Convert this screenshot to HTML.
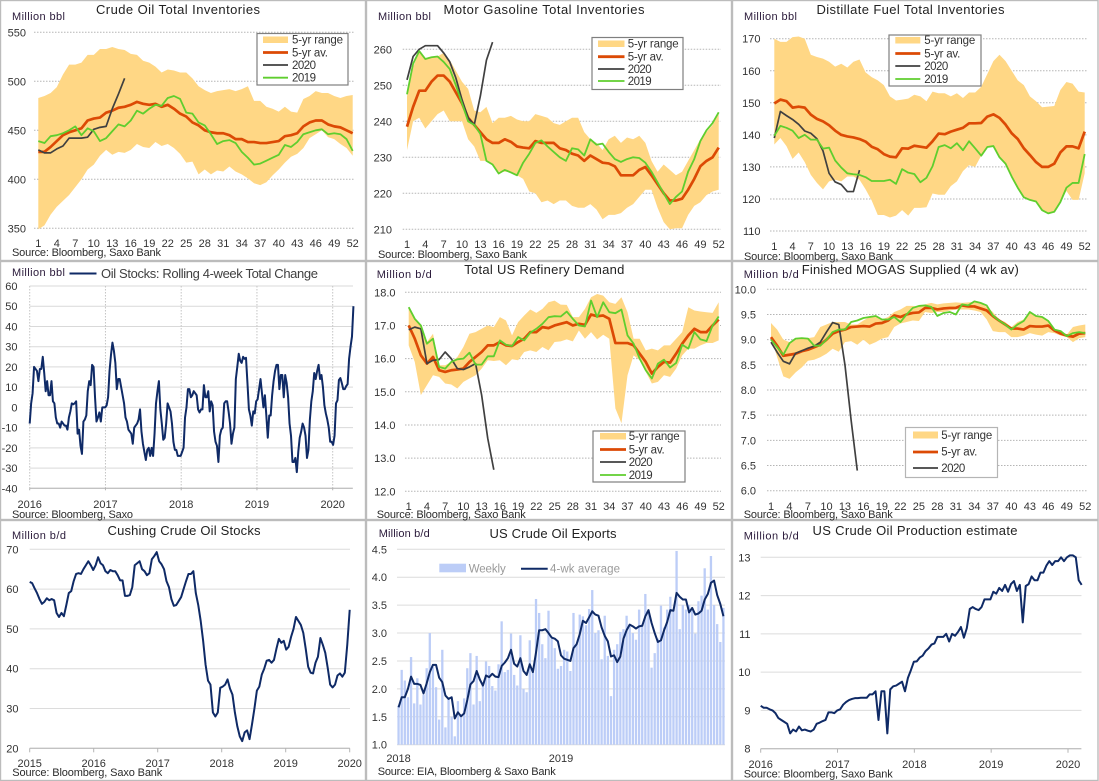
<!DOCTYPE html>
<html lang="en">
<head>
<meta charset="utf-8">
<title>US Oil Inventories Dashboard</title>
<style>
html,body{margin:0;padding:0;background:#fff;}
svg{display:block;font-family:"Liberation Sans",Arial,sans-serif;}
text{fill:#333;font-size:11px;}
.title{font-size:13px;fill:#222;}
.unit{font-size:11px;fill:#2a1a3a;}
.source{font-size:11px;fill:#2b2b2b;}
.tick{font-size:11px;fill:#333;}
.leg{font-size:11.5px;fill:#333;}
.panel{fill:#fff;stroke:#bcbcbc;stroke-width:1.4;}
.legbox{fill:#fff;stroke:#7f7f7f;stroke-width:1.2;}
</style>
</head>
<body>
<svg id="dash" xmlns="http://www.w3.org/2000/svg" width="1099" height="781" viewBox="0 0 1099 781">

<rect class="panel" x="0.5" y="0.5" width="365" height="260"/>
<rect class="panel" x="366.5" y="0.5" width="365" height="260"/>
<rect class="panel" x="732.5" y="0.5" width="365.5" height="260"/>
<rect class="panel" x="0.5" y="261.5" width="365" height="258"/>
<rect class="panel" x="366.5" y="261.5" width="365" height="258"/>
<rect class="panel" x="732.5" y="261.5" width="365.5" height="258"/>
<rect class="panel" x="0.5" y="520.5" width="365" height="260"/>
<rect class="panel" x="366.5" y="520.5" width="365" height="260"/>
<rect class="panel" x="732.5" y="520.5" width="365.5" height="260"/>

<g id="marks"></g>

<!-- Titles, units, sources -->
<text class="title" x="178" y="14" text-anchor="middle" textLength="164">Crude Oil Total Inventories</text>
<text class="unit" x="12" y="20" textLength="53">Million bbl</text>
<text class="source" x="12" y="256" textLength="149">Source: Bloomberg, Saxo Bank</text>

<text class="title" x="544" y="14" text-anchor="middle" textLength="201">Motor Gasoline  Total  Inventories</text>
<text class="unit" x="378" y="20" textLength="53">Million bbl</text>
<text class="source" x="378" y="258" textLength="149">Source: Bloomberg, Saxo Bank</text>

<text class="title" x="910.5" y="14" text-anchor="middle" textLength="188">Distillate  Fuel  Total  Inventories</text>
<text class="unit" x="744" y="20" textLength="53">Million bbl</text>
<text class="source" x="744" y="260" textLength="149">Source: Bloomberg, Saxo Bank</text>

<text class="unit" x="12" y="276" textLength="53">Million bbl</text>
<line x1="69.5" y1="273.5" x2="96.5" y2="273.5" stroke="#0f2a66" stroke-width="2"/>
<text class="title" x="101" y="278" textLength="217" style="fill:#404040">Oil Stocks: Rolling 4-week Total Change</text>
<text class="source" x="12" y="518" textLength="121">Source: Bloomberg, Saxo</text>

<text class="title" x="544.3" y="274" text-anchor="middle" textLength="160">Total US  Refinery  Demand</text>
<text class="unit" x="376.7" y="278" textLength="55">Million b/d</text>
<text class="source" x="376.7" y="518" textLength="149">Source: Bloomberg, Saxo Bank</text>

<text class="title" x="910.3" y="274" text-anchor="middle" textLength="217">Finished  MOGAS  Supplied  (4 wk av)</text>
<text class="unit" x="743.7" y="278" textLength="55">Million b/d</text>
<text class="source" x="743.7" y="518" textLength="149">Source: Bloomberg, Saxo Bank</text>

<text class="title" x="184" y="535" text-anchor="middle" textLength="153">Cushing  Crude  Oil Stocks</text>
<text class="unit" x="12" y="539" textLength="54">Million b/d</text>
<text class="source" x="12.3" y="776" textLength="150">Source: Bloomberg, Saxo Bank</text>

<text class="title" x="553" y="538" text-anchor="middle" textLength="127">US Crude  Oil Exports</text>
<text class="unit" x="378.7" y="537" textLength="51">Million  b/d</text>
<text class="source" x="377.7" y="775" textLength="178">Source: EIA, Bloomberg &amp; Saxo Bank</text>

<text class="title" x="915" y="535" text-anchor="middle" textLength="205">US Crude  Oil  Production  estimate</text>
<text class="unit" x="743.7" y="539.7" textLength="55">Million b/d</text>
<text class="source" x="743.7" y="777.7" textLength="149">Source: Bloomberg, Saxo Bank</text>

<!-- Legends -->
<g>
  <rect class="legbox" x="257" y="33.5" width="91" height="51.5"/>
  <rect x="263" y="36.5" width="25" height="6.5" fill="#ffd785"/>
  <text class="leg" x="292" y="43.5" textLength="51">5-yr range</text>
  <line x1="263" y1="52.5" x2="288" y2="52.5" stroke="#dc4a05" stroke-width="2.8"/>
  <text class="leg" x="292" y="56.5" textLength="36">5-yr av.</text>
  <line x1="263" y1="65" x2="288" y2="65" stroke="#404040" stroke-width="1.7"/>
  <text class="leg" x="292" y="69" textLength="24">2020</text>
  <line x1="263" y1="77.7" x2="288" y2="77.7" stroke="#5fce2e" stroke-width="1.8"/>
  <text class="leg" x="292" y="81.7" textLength="24">2019</text>
</g>
<g>
  <rect class="legbox" x="592" y="37.5" width="91" height="52"/>
  <rect x="598" y="40.5" width="26.5" height="6.5" fill="#ffd785"/>
  <text class="leg" x="627.7" y="47.3" textLength="51">5-yr range</text>
  <line x1="598" y1="56.7" x2="624.5" y2="56.7" stroke="#dc4a05" stroke-width="2.8"/>
  <text class="leg" x="627.7" y="60.7" textLength="36">5-yr av.</text>
  <line x1="598" y1="69" x2="624.5" y2="69" stroke="#404040" stroke-width="1.7"/>
  <text class="leg" x="627.7" y="73" textLength="24">2020</text>
  <line x1="598" y1="81" x2="624.5" y2="81" stroke="#5fce2e" stroke-width="1.8"/>
  <text class="leg" x="627.7" y="85" textLength="24">2019</text>
</g>
<g>
  <rect class="legbox" x="889" y="35" width="92" height="51"/>
  <rect x="895.3" y="37" width="25" height="6.5" fill="#ffd785"/>
  <text class="leg" x="924.3" y="44" textLength="51">5-yr range</text>
  <line x1="895.3" y1="53.5" x2="920.3" y2="53.5" stroke="#dc4a05" stroke-width="2.8"/>
  <text class="leg" x="924.3" y="57.5" textLength="36">5-yr av.</text>
  <line x1="895.3" y1="66" x2="920.3" y2="66" stroke="#404040" stroke-width="1.7"/>
  <text class="leg" x="924.3" y="70" textLength="24">2020</text>
  <line x1="895.3" y1="79" x2="920.3" y2="79" stroke="#5fce2e" stroke-width="1.8"/>
  <text class="leg" x="924.3" y="83" textLength="24">2019</text>
</g>
<g>
  <rect class="legbox" x="593" y="431" width="92" height="51"/>
  <rect x="600" y="433" width="26" height="6.5" fill="#ffd785"/>
  <text class="leg" x="628.7" y="440" textLength="51">5-yr range</text>
  <line x1="600" y1="449.5" x2="626" y2="449.5" stroke="#dc4a05" stroke-width="2.8"/>
  <text class="leg" x="628.7" y="453.3" textLength="36">5-yr av.</text>
  <line x1="600" y1="462" x2="626" y2="462" stroke="#404040" stroke-width="1.7"/>
  <text class="leg" x="628.7" y="466" textLength="24">2020</text>
  <line x1="600" y1="475" x2="626" y2="475" stroke="#5fce2e" stroke-width="1.8"/>
  <text class="leg" x="628.7" y="479" textLength="24">2019</text>
</g>
<g>
  <rect class="legbox" x="905.5" y="427.5" width="92" height="50" style="stroke:#b5b5b5"/>
  <rect x="913" y="431.5" width="25" height="7" fill="#ffd785"/>
  <text class="leg" x="941.3" y="439" textLength="51">5-yr range</text>
  <line x1="913" y1="452" x2="938" y2="452" stroke="#dc4a05" stroke-width="2.8"/>
  <text class="leg" x="941.3" y="455.7" textLength="36">5-yr av.</text>
  <line x1="913" y1="468" x2="938" y2="468" stroke="#404040" stroke-width="1.7"/>
  <text class="leg" x="941.3" y="472" textLength="24">2020</text>
</g>
<g>
  <rect x="439.3" y="563.7" width="26.7" height="8.6" fill="#bccdf7"/>
  <text class="leg" x="468.7" y="572.7" textLength="37" style="fill:#9a9a9a">Weekly</text>
  <line x1="521" y1="568.7" x2="547.7" y2="568.7" stroke="#0f2a66" stroke-width="2"/>
  <text class="leg" x="550" y="572.7" textLength="70" style="fill:#9a9a9a">4-wk average</text>
</g>

<script>
// ---------- Shared tick labels ----------
const weekTicks = [1,4,7,10,13,16,19,22,25,28,31,34,37,40,43,46,49,52];

// ---------- Crude oil inventories ----------
const crudeYTicks = [350,400,450,500,550];
const crudeUpper = [483,485,488,494,507,517,517,519,527,527,533,533,535,533,532,528,527,521,519,515,509,512,511,509,509,503,495,491,488,490,491,492,490,492,495,480,480,474,472,469,474,469,468,482,485,490,488,488,485,483,485,486];
const crudeLower = [349,353,364,372,378,384,392,400,410,415,424,430,425,428,427,430,436,433,432,438,434,436,432,426,417,418,405,410,405,409,408,413,408,405,401,396,394,397,404,410,417,423,426,432,442,446,450,443,441,436,432,424];
const crudeAvg = [428,428,433,439,445,448,450,452,460,462,463,468,470,473,474,476,479,477,476,477,474,476,472,467,464,458,455,450,448,447,447,445,441,441,438,438,437,437,438,439,444,445,447,454,458,460,460,456,454,453,450,447];
const crude2019 = [439,437,444,445,447,450,454,445,452,449,439,442,449,456,454,460,470,467,472,476,475,483,485,482,468,467,458,455,446,436,439,440,437,428,422,415,416,419,422,425,435,433,438,446,448,450,451,446,447,446,441,429];
const crude2020 = [430,427,427,431,434,442,442,442,443,451,453,454,472,487,503];

// ---------- Motor gasoline inventories ----------
const gasYTicks = [210,220,230,240,250,260];
const gasUpper = [247,255,259.5,257.5,258,258,259,257,254,251,249,243,242.5,244,239.5,241,241,241.5,240.5,240,240,242,241.5,241,239.5,239,240,241,241,237,235,234,232,235,236,234,235.5,235,236,234,229,226,228,226.5,225,226,229,232,235,237,239,242];
const gasLower = [232,240,241,238,240,242,243,240,240,240,235,233,229,229,228,226,226,226,225,224,220.5,220,217.5,218,217,218,218,216.5,216,216,217,215.5,212.8,214,214,214.5,216,217,219,221,221,216,212,210,210.3,210.3,214,216.5,217.5,219.5,220.5,221];
const gasAvg = [238.5,244,248.5,248.5,251,252.7,252.7,251,248,245,241,239,237,235,234,234,235,234.3,233,232.7,232.5,234.5,234,234,234,232.5,232,231,230.5,229,230.5,229.5,228.5,228.3,227.5,225,225,225,226.5,227.3,225,222.5,220,218,218,218.5,221,224,227.5,229,230,232.7];
const gas2019 = [247.5,256,259.5,257.3,257.8,258,256.5,254.5,250,245,240,239,236.5,229,228,225.5,226.5,225.8,225,228.5,231,234,234.7,233,231.5,230,229,232.5,232.2,230.5,235,233.5,233.8,231.5,229.5,228.7,229.5,230,229.8,228.5,226,223,220,217,219,220.5,226,229.5,234.5,237.5,239.5,242.5];
const gas2020 = [251.5,258,260,261,261,261,259,256.5,252,246,241,239,247,257,262];

// ---------- Distillate inventories ----------
const distYTicks = [110,120,130,140,150,160,170];
const distUpper = [170,169,169,170.5,170.7,170,165,164.3,163.8,162.8,161.3,162.2,161,162.8,163.5,159.5,158,157,155.5,152,150.7,151,151.3,152.5,152,150.5,153.5,153,153,152,153,151.5,153.2,153.2,155,159,163,165,163,160,157,155.5,152,150.5,148.6,148.8,149,154,156.5,156,153.5,153.2];
const distLower = [137,139,136.5,132.5,134.5,131.5,127.5,125,123,125.5,126,125.5,127,127,126,123,119.5,115,115,114.2,114.8,116.5,114.8,117.2,117.2,117.4,121.7,121.3,121.3,124,125.5,128.7,130.5,130,133.5,136,136.5,133,131,127,123.5,120.5,119.5,119,116.5,115.5,116,119,122.5,119.7,119.7,128];
const distAvg = [149.8,151,150.5,148.5,148.8,148.5,146.3,145,144.2,143,141.3,140,139.5,139.2,138.7,137.9,136.3,135.5,134,133.2,133,135.8,135.7,136.6,136.3,136,138,140.4,140.2,141,141.6,142.2,143.6,143.6,143.7,145.7,146.4,145.3,143.2,140.5,138.7,135.8,133.7,131.5,130,130,131,134.5,136.4,136.4,135.8,141];
const dist2019 = [139.7,142.8,142.2,141.3,139,140,138.5,138.5,135.7,136,132,129.8,128,127.7,127.5,126.8,125.6,125.6,125.6,126,124.7,129.3,128.2,127.8,125.2,126.6,130.2,136.2,136.8,135.8,137.4,135.2,138,135.8,133.5,136.2,136.5,133,131,127,123.5,120.5,119.7,119.2,116.5,115.5,116,119,123.5,125,125,134];
const dist2020 = [139,147.3,146,144.8,143.3,141.2,140.5,138.8,135,128,125.3,124.5,122.3,122.3,129];

// ---------- Rolling 4-week stock change (weekly values from Jan 2016) ----------
const changeYTicks = [-40,-30,-20,-10,0,10,20,30,40,50,60];
const changeYears = [2016,2017,2018,2019,2020];
const stockChange = [-8,2,7,20,19,18,13,19,19,25,17,8,13,6,6,13,3,2,-5,-8,-8,-10,-7,-8,-9,-9,-11,-5,-2,2,1.5,2,3,-13,-11,-19,-23,-7,-6,-4,8,13,11,21,20,5,-7,-5,-2.5,-7,0,0,
0,1,5,18,26,32,28,22,9,14,14,10,6,2,-5,-7,-11,-12,-13,-18,-10,-9,-8,-6,-1,-12,-18,-22,-26,-21,-20,-24,-20,-24,-13,2,8,13,-1,-8,-16,-15,-8,2,0,-2,-8,-17,-21,-21,-24,-24,
-24,-22,-20,-5,0,9,9,5,6,8,7,6,-1,-2.5,-1,-1,11,5,5,8,-2,3,1,-12,-17,-19,-27,-14,-11,-10,2,3,3,-2,-8,-18,-13,-10,14,20,26.5,23,22,25,24,24.5,12,-1,-4,-9,-2,-3,
3,4,9,14,7,0,6,-4,-15,-4,-4,6,13,18,21,21,9,16,16,5,16,12,5,-8,-14,-27,-27,-25,-32,-22,-15,-12,-8,-10,-14,-25,-21,-6,3,8,17,14,18,21,14,16,10,1,-3,-6,-10,-17,
-17,-18.5,-14,2,3.5,13.5,14.5,12,9,9,10.5,11.5,24,30,35,50];

// ---------- Refinery demand ----------
const refYTicks = [12,13,14,15,16,17,18];
const refUpper = [17.55,17.2,17,16.5,16.75,15.8,15.8,15.9,16.05,16.35,16.75,16.8,16.9,17,16.95,17.25,17.15,16.7,17.1,17.3,17.48,17.38,17.5,17.7,17.75,17.63,17.62,17.25,17.25,17.5,17.85,17.95,17.9,17.7,17.65,17.85,17.4,16.6,16.6,16.25,16.3,16.25,16.4,16.4,16.6,16.8,17.55,17.45,17.42,17.4,17.38,17.7];
const refLower = [16.4,15.9,14.9,15.2,15.5,15.45,15.25,15.22,15.1,15.3,15.4,15.5,15.7,15.95,15.93,15.95,15.8,15.98,15.95,16.2,16.25,16.2,16.35,16.25,16.5,16.52,16.58,16.52,16.85,16.6,16.8,16.58,16.72,16.6,14.5,14.05,15.5,16.1,15.95,15.6,15.25,15.3,15.5,15.45,15.7,16.1,16.3,16.3,16.4,16.47,16.47,16.55];
const refAvg = [17,16.6,16.1,15.85,16.05,15.65,15.6,15.65,15.67,15.7,15.9,16.05,16.2,16.4,16.4,16.5,16.4,16.38,16.5,16.6,16.8,16.8,16.95,16.92,17,17.05,17.1,17,17.05,17.02,17.33,17.28,17.3,17.2,16.47,16.47,16.47,16.4,16.15,15.9,15.55,15.75,15.9,15.88,16.15,16.45,16.7,16.9,16.8,16.8,17,17.18];
const ref2019 = [17.55,17.2,17,16.45,16.6,15.75,15.7,15.9,15.98,16,16.18,15.82,15.82,16.07,16.07,16.55,16.42,16.38,16.65,16.55,16.78,16.9,17.05,17.25,17.28,17.27,17.42,17.2,17,16.97,17.75,17.25,17.7,17.4,17.37,17.48,16.7,16.45,16,15.65,15.4,15.85,15.97,15.73,15.87,16.42,16.3,16.8,16.58,16.53,17,17.27];
const ref2020 = [16.87,16.95,16.9,15.85,15.95,15.97,16.2,16,15.7,15.67,15.75,15.85,14.9,13.6,12.65];

// ---------- MOGAS supplied ----------
const mogasYTicks = [6,6.5,7,7.5,8,8.5,9,9.5,10];
const mogasUpper = [9.33,9.2,9,8.95,9,9.02,9.03,9.05,9.25,9.3,9.35,9.35,9.35,9.3,9.3,9.38,9.45,9.47,9.4,9.45,9.55,9.6,9.67,9.67,9.65,9.7,9.73,9.7,9.72,9.73,9.74,9.73,9.74,9.75,9.72,9.65,9.55,9.4,9.35,9.25,9.35,9.4,9.55,9.48,9.45,9.35,9.2,9.18,9.1,9.25,9.28,9.3];
const mogasLower = [9.05,8.65,8.27,8.22,8.35,8.45,8.58,8.6,8.65,8.72,8.82,8.76,8.95,8.97,8.9,9,8.9,8.95,9.02,9.05,9.25,9.32,9.35,9.38,9.37,9.55,9.53,9.55,9.55,9.58,9.6,9.6,9.6,9.58,9.55,9.4,9.17,9.15,9.15,9.05,9.05,9.08,9.13,9.1,9.08,9.15,9.13,9.08,9.05,8.95,9.03,9.05];
const mogasAvg = [9.05,8.88,8.68,8.7,8.72,8.77,8.8,8.85,8.9,9,9.12,9.17,9.2,9.25,9.26,9.27,9.26,9.32,9.33,9.38,9.48,9.45,9.5,9.53,9.54,9.63,9.63,9.6,9.62,9.63,9.63,9.68,9.66,9.66,9.62,9.58,9.47,9.38,9.3,9.22,9.22,9.2,9.27,9.26,9.26,9.28,9.18,9.12,9.08,9.06,9.12,9.13];
const mogas2019 = [9,8.85,8.7,8.93,9.02,9.03,9.02,8.88,8.88,9,9.15,9.2,9.2,9.35,9.38,9.43,9.45,9.47,9.4,9.4,9.45,9.35,9.5,9.63,9.67,9.68,9.65,9.47,9.53,9.55,9.5,9.7,9.68,9.76,9.73,9.68,9.48,9.38,9.3,9.2,9.3,9.37,9.55,9.47,9.45,9.37,9.2,9.17,9.07,9.13,9.15,9.13];
const mogas2020 = [8.95,8.75,8.57,8.52,8.73,8.78,8.83,8.87,8.95,9.15,9.34,9.3,8.5,7.4,6.4];

// ---------- Cushing stocks (2015 to 2020) ----------
const cushingYTicks = [20,30,40,50,60,70];
const cushingYears = [2015,2016,2017,2018,2019,2020];
const cushingStocks = [61.8,61.5,60.2,59,57.5,56.3,56.8,57.7,57.2,57.5,57.2,54,53,54,53.2,56,59,59.5,62,63.8,64,63.8,65,66,67,66,
64.8,66,68,66.5,66,64.5,64,64.8,64.5,64.5,63.5,62.2,62.2,58.3,58.3,58.5,60.5,66,66.5,67,65,64.5,63.5,64,67.5,68.3,
69.3,67,66.2,65,62,60.5,57.5,55.8,56,57,58,60,62,63.8,63.8,64.5,59,56,52,47,41,37,36,29,28,29,35.2,
35.5,36,37.3,35,33.5,29,25.5,23,21.8,24,24.5,22.3,26,30,34.5,35.5,38.5,40,42,42.2,41.5,42.2,45,47.5,46.5,47,
44.8,45.5,48,50,53,52,51,49,45,40.5,39,38.8,41.5,43,47.7,46,44,40.2,36,35.3,36,38.3,38.8,38,39,46,54.8];

// ---------- Crude exports ----------
const exportYTicks = [1,1.5,2,2.5,3,3.5,4,4.5];
const exportYears = [2018,2019];
const exportWeekly = [1.7,2.34,2.15,1.85,2.57,1.74,2.19,1.72,1.9,2.37,3,2.4,2.03,1.45,2.7,1.31,1.85,1.5,1.15,1.78,1.5,1.83,2.37,2.64,1.72,2.59,1.78,2.1,2.49,2.41,2.05,1.97,2.44,3.21,2.3,2.34,2.99,2.25,2.06,2.96,2,1.94,2.87,2.3,3.61,3.36,2.8,2.55,3.4,2.9,2.73,2.36,2.41,2.7,2.67,2.32,3.36,2.8,3.33,3.3,3.14,3.43,3.77,3,3.05,2.53,3.31,2.59,1.87,2.7,2.8,3.02,3.07,3.31,3.15,3,2.88,3.42,3.15,3.7,3.42,2.38,2.64,2.9,3.49,3.1,3.42,3.65,3.42,4.47,3.07,3.5,3.42,3.5,3.42,2.99,3.57,3.67,4.16,3.42,4.38,3.5,3.16,2.84,3.45];
const exportAvg = [1.67,1.85,1.85,2,2.22,2.09,2.09,2.07,1.92,2.1,2.3,2.43,2.43,2.2,2.12,1.88,1.82,1.85,1.47,1.58,1.51,1.56,1.8,2.08,2.14,2.32,2.17,2.06,2.24,2.21,2.27,2.22,2.21,2.41,2.47,2.55,2.7,2.45,2.4,2.55,2.32,2.25,2.44,2.3,2.65,3.05,3.05,3.07,3,2.92,2.9,2.85,2.6,2.54,2.52,2.5,2.73,2.8,2.98,3.22,3.18,3.28,3.39,3.33,3.31,3.1,2.95,2.85,2.58,2.6,2.48,2.58,2.9,3.05,3.15,3.12,3.08,3.12,3.13,3.3,3.41,3.18,3,2.84,2.87,3.05,3.2,3.41,3.4,3.72,3.65,3.6,3.6,3.37,3.45,3.33,3.35,3.4,3.6,3.7,3.9,3.94,3.68,3.52,3.3];

// ---------- Crude production (two-weekly from Jan 2016) ----------
const prodYTicks = [8,9,10,11,12,13];
const prodYears = [2016,2017,2018,2019,2020];
const prodEstimate = [9.12,9.07,9.07,9.03,9,8.93,8.8,8.75,8.7,8.65,8.4,8.5,8.45,8.58,8.48,8.5,8.47,8.45,8.5,8.65,8.68,8.72,8.75,8.95,8.95,8.93,
9,9.03,9.15,9.22,9.27,9.3,9.32,9.32,9.33,9.33,9.33,9.42,9.42,9.5,8.75,9.5,9.5,8.4,9.55,9.63,9.65,9.7,9.75,9.5,9.85,10.05,
10.27,10.28,10.38,10.43,10.55,10.62,10.72,10.75,10.92,10.92,10.92,11,10.8,11,10.95,11.05,11.18,10.9,11.15,11.65,11.7,11.65,11.62,11.7,11.9,11.9,
11.9,12.1,12.05,12.2,12.12,12.28,12.1,12.3,12.38,12.12,12.28,11.3,12.25,12.3,12.5,12.4,12.4,12.6,12.6,12.78,12.9,12.8,12.9,12.9,13,12.9,
13,13.05,13.05,13,12.4,12.28];

// ---------- Drawing helpers ----------
const SVGNS = 'http://www.w3.org/2000/svg';
const root = document.getElementById('marks');
const BAND = '#ffd785', ORANGE = '#dc4a05', DARK = '#404040', GREEN = '#5fce2e', NAVY = '#0f2a66', BAR = '#bccdf7';

function mk(tag, name, attrs, parent) {
  const el = document.createElementNS(SVGNS, tag);
  
  
  for (const k in attrs) el.setAttribute(k, attrs[k]);
  (parent || root).appendChild(el);
  return el;
}
function linear(d0, d1, r0, r1) {
  return v => r0 + (v - d0) * (r1 - r0) / (d1 - d0);
}
function pts(values, x, y) {
  return values.map((v, i) => x(i).toFixed(2) + ',' + y(v).toFixed(2)).join(' ');
}
function drawLine(prefix, series, values, x, y, color, width) {
  mk('polyline', prefix + '-line-' + series, {
    points: pts(values, x, y), fill: 'none', stroke: color,
    'stroke-width': width, 'stroke-linejoin': 'round', 'stroke-linecap': 'butt'
  });
}
function drawYAxis(prefix, ticks, y, gridX1, gridX2, labelX, digits, dash, gridColor) {
  ticks.forEach(t => {
    const attrs = {x1: gridX1, x2: gridX2, y1: y(t), y2: y(t), stroke: gridColor, 'stroke-width': 1};
    if (dash) attrs['stroke-dasharray'] = dash;
    mk('line', prefix + '-gridline', attrs);
    const lab = mk('text', prefix + '-y-tick', {x: labelX, y: y(t) + 4, 'text-anchor': 'end', class: 'tick'});
    lab.textContent = digits ? t.toFixed(digits) : String(t);
  });
}
function drawWeekAxis(prefix, x, baseline) {
  weekTicks.forEach(w => {
    const lab = mk('text', prefix + '-x-tick', {x: x(w - 1), y: baseline, 'text-anchor': 'middle', class: 'tick'});
    lab.textContent = String(w);
  });
}
function drawYearAxis(prefix, years, x, axisY, baseline, tickLen) {
  mk('line', prefix + '-x-axis', {x1: x(years[0]), x2: prefix === 'cushing' ? x(years[years.length - 1]) : x(years[years.length - 1]) + (prefix === 'production' ? 13.3 : 20), y1: axisY, y2: axisY, stroke: '#b4b4b4', 'stroke-width': 1});
  years.forEach(yr => {
    mk('line', prefix + '-x-tickmark', {x1: x(yr), x2: x(yr), y1: axisY, y2: axisY + tickLen, stroke: '#b4b4b4', 'stroke-width': 1});
    const lab = mk('text', prefix + '-x-tick', {x: x(yr), y: baseline, 'text-anchor': 'middle', class: 'tick'});
    lab.textContent = String(yr);
  });
}
function seasonalChart(prefix, c) {
  const x = linear(0, 51, c.x1, c.x52);
  const y = linear(c.vA, c.vB, c.yA, c.yB);
  drawYAxis(prefix, c.ticks, y, c.gridX1, c.gridX2, c.labelX, c.digits, '1.5 1.5', '#b5b5b5');
  const poly = c.upper.map((v, i) => x(i).toFixed(2) + ',' + y(v).toFixed(2))
    .concat(c.lower.map((v, i) => x(i).toFixed(2) + ',' + y(v).toFixed(2)).reverse()).join(' ');
  mk('polygon', prefix + '-range-band', {points: poly, fill: BAND, stroke: 'none'});
  drawLine(prefix, 'five-year-average', c.avg, x, y, ORANGE, 2.7);
  drawLine(prefix, '2020', c.y2020, x, y, DARK, 1.7);
  drawLine(prefix, '2019', c.y2019, x, y, GREEN, 1.8);
  drawWeekAxis(prefix, x, c.baseline);
}

// ---------- Seasonal charts ----------
seasonalChart('crude', {x1: 38.3, x52: 352.7, vA: 550, vB: 350, yA: 32.3, yB: 228.3, ticks: crudeYTicks, gridX1: 34, gridX2: 355, labelX: 26, digits: 0, upper: crudeUpper, lower: crudeLower, avg: crudeAvg, y2019: crude2019, y2020: crude2020, baseline: 247});
seasonalChart('gasoline', {x1: 407, x52: 718.7, vA: 260, vB: 210, yA: 49.3, yB: 229.3, ticks: gasYTicks, gridX1: 402.7, gridX2: 721, labelX: 392, digits: 0, upper: gasUpper, lower: gasLower, avg: gasAvg, y2019: gas2019, y2020: gas2020, baseline: 248});
seasonalChart('distillate', {x1: 774.3, x52: 1084.7, vA: 170, vB: 110, yA: 38.7, yB: 231, ticks: distYTicks, gridX1: 770, gridX2: 1087, labelX: 760.5, digits: 0, upper: distUpper, lower: distLower, avg: distAvg, y2019: dist2019, y2020: dist2020, baseline: 250});
seasonalChart('refinery', {x1: 408.7, x52: 718.7, vA: 18, vB: 12, yA: 292.3, yB: 491.3, ticks: refYTicks, gridX1: 405, gridX2: 721, labelX: 395.5, digits: 1, upper: refUpper, lower: refLower, avg: refAvg, y2019: ref2019, y2020: ref2020, baseline: 510});
seasonalChart('mogas', {x1: 771, x52: 1085.3, vA: 10, vB: 6, yA: 289.3, yB: 490.7, ticks: mogasYTicks, gridX1: 767, gridX2: 1087, labelX: 756, digits: 1, upper: mogasUpper, lower: mogasLower, avg: mogasAvg, y2019: mogas2019, y2020: mogas2020, baseline: 510});

// ---------- Rolling 4-week change ----------
(function () {
  const xYear = linear(2016, 2020, 29.7, 332.7);
  const y = linear(60, -40, 286, 488.3);
  drawYAxis('stocks-change', changeYTicks, y, 29.7, 353, 17.5, 0, null, '#d9d9d9');
  changeYears.forEach(yr => {
    mk('line', 'stocks-change-year-gridline', {x1: xYear(yr), x2: xYear(yr), y1: 286, y2: 488.3, stroke: '#c4c4c4', 'stroke-width': 1, 'stroke-dasharray': '1.5 1.5'});
  });
  drawYearAxis('stocks-change', changeYears, xYear, 488.3, 508, 2);
  drawLine('stocks-change', 'total', stockChange, i => xYear(2016 + i / 52.18), y, NAVY, 2);
})();

// ---------- Cushing ----------
(function () {
  const xYear = linear(2015, 2020, 29.7, 349.7);
  const y = linear(70, 20, 549.3, 748.3);
  drawYAxis('cushing', cushingYTicks, y, 29.7, 350, 18.5, 0, null, '#dcdcdc');
  drawYearAxis('cushing', cushingYears, xYear, 748.3, 767, 4);
  const n = cushingStocks.length - 1;
  drawLine('cushing', 'stocks', cushingStocks, i => xYear(2015 + 5 * i / n), y, NAVY, 2);
})();

// ---------- Exports ----------
(function () {
  const n = exportWeekly.length;
  const step = (725 - 397) / n;
  const xCenter = i => 397 + (i + 0.5) * step;
  const y = linear(4.5, 1, 549.3, 744.7);
  drawYAxis('exports', exportYTicks, y, 397, 725, 387, 1, null, '#dcdcdc');
  exportWeekly.forEach((v, i) => {
    mk('rect', 'exports-weekly-bar', {x: xCenter(i) - 1.15, y: y(v), width: 2.3, height: y(1) - y(v), fill: BAR});
  });
  drawLine('exports', 'four-week-average', exportAvg, xCenter, y, NAVY, 2);
  exportYears.forEach(yr => {
    const lab = mk('text', 'exports-x-tick', {x: xCenter((yr - 2018) * 52), y: 762, 'text-anchor': 'middle', class: 'tick'});
    lab.textContent = String(yr);
  });
})();

// ---------- Production ----------
(function () {
  const xYear = linear(2016, 2020, 760.7, 1068);
  const y = linear(13, 8, 557.3, 748.7);
  drawYAxis('production', prodYTicks, y, 760.7, 1081.5, 750.5, 0, null, '#dcdcdc');
  drawYearAxis('production', prodYears, xYear, 748.7, 768, 4);
  drawLine('production', 'estimate', prodEstimate, i => xYear(2016 + i / 26.09), y, NAVY, 2);
})();
</script>
</svg>
</body>
</html>
